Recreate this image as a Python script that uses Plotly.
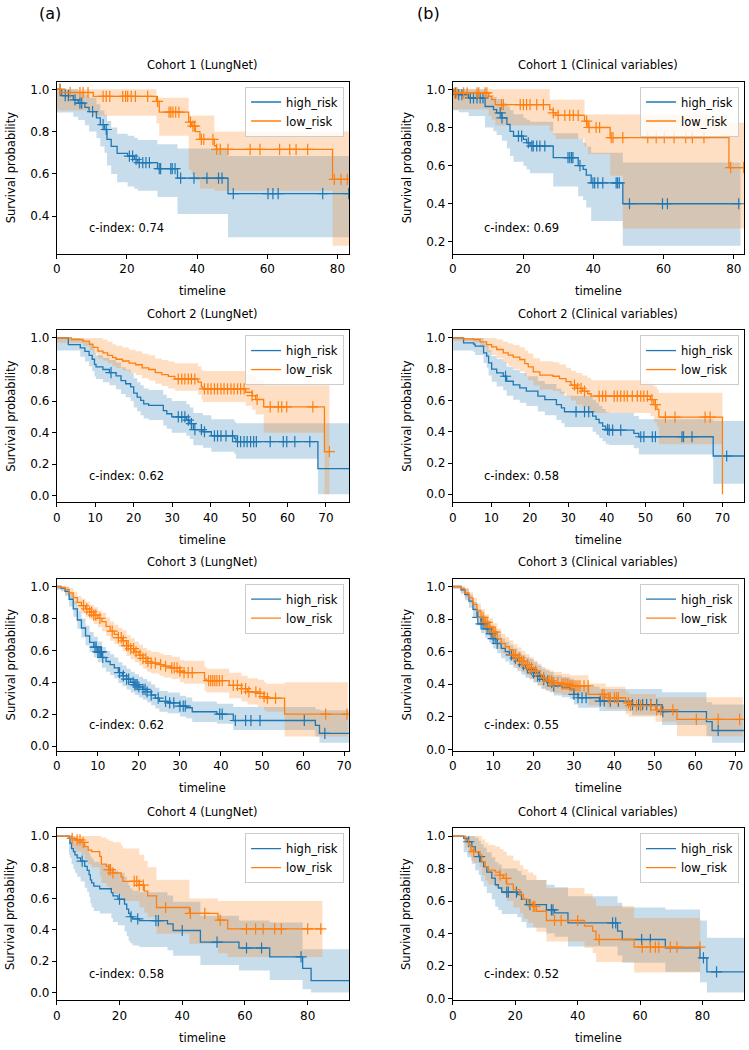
import numpy as np
import plotly.graph_objects as go

W, H = 749, 1050
BLUE = "#1f77b4"
ORANGE = "#ff7f0e"
BLUE_FILL = "rgba(31,119,180,0.25)"
ORANGE_FILL = "rgba(255,127,14,0.25)"
FONT = "DejaVu Sans"

# ---------------- Cohort 1, LungNet ----------------
c1_ln_high_t = [0, 1.4, 4.7, 6.1, 8.0, 9.2, 11.3, 12.4, 13.6, 14.3, 15.5, 17.2, 20.2, 22.1, 23.1, 28.7, 34.4, 48.8]
c1_ln_high_s = [1.0, 0.97, 0.95, 0.935, 0.915, 0.895, 0.865, 0.833, 0.81, 0.763, 0.73, 0.697, 0.684, 0.668, 0.653, 0.625, 0.58, 0.507]
c1_ln_high_hi = [1.0, 1.0, 1.0, 0.99, 0.975, 0.96, 0.93, 0.9, 0.88, 0.85, 0.82, 0.79, 0.78, 0.77, 0.76, 0.74, 0.72, 0.684]
c1_ln_high_lo = [0.89, 0.89, 0.87, 0.855, 0.83, 0.8, 0.77, 0.73, 0.7, 0.64, 0.6, 0.56, 0.54, 0.53, 0.52, 0.49, 0.41, 0.30]
c1_ln_high_c = [0.9, 2.4, 3.3, 5.2, 6.6, 7.1, 10.2, 13.2, 14.1, 20.7, 21.6, 22.6, 23.5, 24.5, 25.4, 26.4, 29.2, 29.6,
                32.5, 32.9, 33.7, 35.3, 39.1, 42.8, 46.1, 47.1, 50.3, 60.2, 61.6, 63.1, 75.8, 83.2]
c1_ln_high_end = 83.3

c1_ln_low_t = [0, 1.0, 10.4, 28.4, 29.2, 37.6, 38.4, 39.5, 40.8, 44.9, 45.5, 78.6]
c1_ln_low_s = [1.0, 0.985, 0.967, 0.943, 0.892, 0.845, 0.826, 0.80, 0.763, 0.733, 0.716, 0.574]
c1_ln_low_hi = [1.0, 1.0, 1.0, 0.96, 0.96, 0.876, 0.876, 0.876, 0.876, 0.80, 0.80, 0.80]
c1_ln_low_lo = [0.904, 0.90, 0.875, 0.84, 0.78, 0.62, 0.60, 0.57, 0.53, 0.52, 0.52, 0.26]
c1_ln_low_c = [0.9, 3.8, 6.6, 7.5, 8.9, 13.2, 14.1, 15.1, 18.8, 19.6, 20.2, 21.2, 22.4, 25.9, 28.7, 32.0, 32.5, 33.1,
               33.9, 34.8, 38.1, 38.8, 39.3, 41.2, 41.9, 44.5, 45.6, 46.6, 48.8, 55.1, 57.9, 63.5, 66.4, 68.2, 71.5,
               79.1, 81.0, 82.8]
c1_ln_low_end = 83.3

# ---------------- Cohort 1, Clinical variables ----------------
c1_cv_high_t = [0, 0.3, 1.7, 4.5, 9.2, 11.6, 12.5, 14.0, 15.4, 16.3, 17.3, 20.1, 21.0, 22.0, 28.6, 35.7, 37.1, 38.0, 39.4, 48.4]
c1_cv_high_s = [1.0, 0.98, 0.972, 0.955, 0.91, 0.894, 0.877, 0.85, 0.816, 0.78, 0.755, 0.738, 0.72, 0.703, 0.642, 0.60, 0.58, 0.55, 0.51, 0.40]
c1_cv_high_hi = [1.0, 1.0, 1.0, 1.0, 0.97, 0.96, 0.95, 0.93, 0.91, 0.89, 0.87, 0.85, 0.84, 0.83, 0.77, 0.74, 0.72, 0.70, 0.668, 0.616]
c1_cv_high_lo = [0.89, 0.89, 0.88, 0.86, 0.80, 0.78, 0.76, 0.73, 0.69, 0.65, 0.62, 0.60, 0.58, 0.56, 0.49, 0.44, 0.42, 0.38, 0.31, 0.18]
c1_cv_high_c = [0.8, 1.7, 2.6, 5.0, 5.9, 6.9, 7.8, 8.6, 13.5, 14.0, 18.7, 19.6, 21.5, 22.5, 22.9, 23.9, 24.8, 26.2,
                32.8, 33.3, 33.8, 34.2, 36.2, 39.9, 40.4, 41.3, 42.7, 46.5, 46.9, 47.4, 50.3, 59.7, 61.1, 81.4]
c1_cv_high_end = 81.9

c1_cv_low_t = [0, 0.5, 10.2, 11.1, 12.1, 27.6, 28.6, 29.3, 37.5, 38.5, 44.8, 48.4, 78.6]
c1_cv_low_s = [1.0, 0.982, 0.963, 0.946, 0.92, 0.894, 0.877, 0.863, 0.833, 0.80, 0.747, 0.747, 0.59]
c1_cv_low_hi = [1.0, 1.0, 1.0, 1.0, 1.0, 0.946, 0.946, 0.946, 0.868, 0.868, 0.868, 0.868, 0.825]
c1_cv_low_lo = [0.894, 0.894, 0.86, 0.84, 0.81, 0.78, 0.76, 0.74, 0.70, 0.66, 0.547, 0.27, 0.27]
c1_cv_low_c = [0.6, 1.2, 3.1, 4.1, 6.9, 7.4, 9.2, 9.7, 13.9, 14.4, 19.2, 20.1, 21.0, 22.0, 23.9, 25.8, 28.6, 30.0,
               31.9, 33.3, 34.3, 35.7, 38.1, 38.8, 40.8, 41.8, 45.1, 45.6, 48.4, 55.5, 57.9, 60.2, 63.0, 66.3, 68.2,
               71.5, 79.1, 82.8]
c1_cv_low_end = 82.9

# ---------------- Cohort 2, LungNet ----------------
c2_ln_high_t = [0, 3.0, 6.1, 7.3, 8.4, 9.2, 9.8, 10.2, 12.0, 13.7, 15.4, 16.7, 17.9, 19.2, 20.0, 20.9, 21.8, 22.6,
                23.9, 27.7, 28.6, 29.9, 33.7, 34.6, 35.5, 38.0, 40.2, 46.2, 46.6, 67.9]
c2_ln_high_s = [1.0, 0.958, 0.937, 0.915, 0.89, 0.865, 0.833, 0.817, 0.80, 0.78, 0.76, 0.73, 0.71, 0.69, 0.65, 0.625,
                0.604, 0.583, 0.573, 0.54, 0.52, 0.50, 0.48, 0.458, 0.42, 0.406, 0.38, 0.365, 0.344, 0.173]
c2_ln_high_hi = [1.0, 1.0, 0.99, 0.975, 0.955, 0.935, 0.905, 0.89, 0.875, 0.86, 0.845, 0.815, 0.8, 0.78, 0.745, 0.72,
                 0.7, 0.68, 0.67, 0.64, 0.62, 0.60, 0.58, 0.56, 0.525, 0.51, 0.485, 0.47, 0.46, 0.46]
c2_ln_high_lo = [0.92, 0.92, 0.88, 0.85, 0.82, 0.79, 0.755, 0.74, 0.72, 0.70, 0.675, 0.645, 0.625, 0.6, 0.56, 0.535,
                 0.51, 0.49, 0.48, 0.445, 0.425, 0.40, 0.38, 0.36, 0.32, 0.305, 0.28, 0.265, 0.235, 0.01]
c2_ln_high_c = [14.1, 31.6, 32.5, 33.3, 34.2, 35.0, 35.9, 37.6, 38.4, 41.0, 41.8, 42.7, 44.0, 45.7, 47.0, 47.8, 48.7,
                49.5, 50.4, 51.2, 51.9, 55.5, 58.9, 59.8, 61.9, 65.8]
c2_ln_high_end = 76.0

c2_ln_low_t = [0, 3.8, 6.8, 8.5, 9.4, 10.7, 12.0, 13.2, 14.5, 15.4, 17.1, 18.8, 20.5, 22.2, 23.9, 25.6, 27.3, 29.0,
               30.7, 36.7, 37.6, 38.0, 49.1, 50.8, 51.7, 53.8, 69.6]
c2_ln_low_s = [1.0, 0.99, 0.98, 0.96, 0.94, 0.917, 0.905, 0.89, 0.875, 0.865, 0.854, 0.84, 0.83, 0.81, 0.80, 0.78,
               0.767, 0.756, 0.74, 0.72, 0.69, 0.677, 0.656, 0.635, 0.61, 0.563, 0.28]
c2_ln_low_hi = [1.0, 1.0, 1.0, 1.0, 1.0, 1.0, 0.99, 0.975, 0.96, 0.95, 0.94, 0.925, 0.915, 0.9, 0.89, 0.87, 0.86,
                0.85, 0.84, 0.82, 0.80, 0.79, 0.77, 0.755, 0.735, 0.70, 0.70]
c2_ln_low_lo = [0.97, 0.97, 0.95, 0.92, 0.90, 0.87, 0.855, 0.84, 0.82, 0.81, 0.795, 0.78, 0.765, 0.745, 0.73, 0.71,
                0.695, 0.68, 0.665, 0.64, 0.61, 0.595, 0.57, 0.545, 0.515, 0.40, 0.01]
c2_ln_low_c = [31.6, 32.5, 33.3, 34.2, 35.0, 35.9, 38.4, 39.3, 40.1, 41.0, 41.8, 42.7, 43.5, 44.4, 45.3, 46.1, 47.0,
               47.8, 48.7, 50.8, 52.1, 55.5, 57.6, 58.5, 59.8, 66.6, 70.9]
c2_ln_low_end = 70.9

# ---------------- Cohort 2, Clinical variables ----------------
c2_cv_high_t = [0, 2.8, 5.4, 5.8, 8.0, 8.8, 9.3, 10.1, 11.4, 13.1, 14.0, 15.7, 17.4, 19.1, 22.1, 23.9, 26.9, 28.2,
                29.0, 36.3, 37.2, 38.0, 38.9, 39.7, 40.6, 47.0, 48.3, 67.6]
c2_cv_high_s = [1.0, 0.968, 0.96, 0.947, 0.904, 0.883, 0.84, 0.80, 0.777, 0.755, 0.723, 0.70, 0.68, 0.66, 0.628,
                0.606, 0.574, 0.553, 0.528, 0.50, 0.479, 0.457, 0.436, 0.415, 0.41, 0.39, 0.368, 0.245]
c2_cv_high_hi = [1.0, 1.0, 1.0, 1.0, 0.97, 0.955, 0.92, 0.885, 0.865, 0.845, 0.815, 0.795, 0.775, 0.755, 0.725,
                 0.705, 0.675, 0.655, 0.63, 0.605, 0.585, 0.565, 0.545, 0.525, 0.52, 0.50, 0.48, 0.468]
c2_cv_high_lo = [0.92, 0.92, 0.91, 0.89, 0.84, 0.81, 0.76, 0.72, 0.69, 0.665, 0.63, 0.605, 0.585, 0.565, 0.53,
                 0.505, 0.475, 0.455, 0.43, 0.40, 0.38, 0.36, 0.34, 0.32, 0.315, 0.295, 0.255, 0.068]
c2_cv_high_c = [13.7, 32.0, 34.2, 35.3, 40.2, 40.6, 41.5, 43.6, 48.8, 49.6, 51.8, 52.6, 59.5, 59.9, 62.1, 71.1]
c2_cv_high_end = 75.6

c2_cv_low_t = [0, 2.8, 5.4, 7.1, 8.8, 10.1, 11.4, 13.1, 14.4, 15.7, 17.4, 18.7, 19.6, 20.9, 22.6, 26.0, 27.7, 29.4,
               30.7, 32.0, 33.7, 35.0, 35.9, 51.3, 52.2, 53.0, 53.5, 70.0]
c2_cv_low_s = [1.0, 0.994, 0.99, 0.975, 0.957, 0.943, 0.926, 0.904, 0.89, 0.877, 0.862, 0.836, 0.815, 0.783, 0.762,
               0.755, 0.74, 0.72, 0.698, 0.677, 0.66, 0.643, 0.628, 0.606, 0.574, 0.543, 0.494, 0.0]
c2_cv_low_hi = [1.0, 1.0, 1.0, 1.0, 1.0, 1.0, 0.99, 0.975, 0.965, 0.955, 0.94, 0.92, 0.90, 0.87, 0.85, 0.845, 0.83,
                0.81, 0.79, 0.775, 0.76, 0.745, 0.73, 0.71, 0.69, 0.67, 0.65, 0.0]
c2_cv_low_lo = [0.98, 0.98, 0.97, 0.94, 0.91, 0.89, 0.87, 0.84, 0.82, 0.80, 0.785, 0.755, 0.73, 0.695, 0.67, 0.66,
                0.645, 0.625, 0.60, 0.575, 0.56, 0.54, 0.52, 0.50, 0.46, 0.43, 0.32, 0.0]
c2_cv_low_c = [31.6, 32.4, 33.3, 34.2, 38.0, 38.9, 39.7, 41.9, 42.7, 43.6, 44.5, 45.3, 46.6, 47.9, 48.8, 49.6, 50.5,
               51.7, 52.6, 55.2, 57.7, 65.5, 66.8]
c2_cv_low_end = 70.0

# ---------------- Cohort 3, LungNet ----------------
c3_ln_high_t = [0, 1, 2, 3, 4, 5, 6, 7, 8, 9, 10, 11, 12, 13, 14, 15, 16, 17, 18, 19, 20, 21, 22, 23, 24, 25, 27,
                30, 31.5, 33, 39, 43, 63, 64]
c3_ln_high_s = [1.0, 0.99, 0.97, 0.92, 0.86, 0.79, 0.74, 0.69, 0.65, 0.62, 0.59, 0.555, 0.53, 0.51, 0.49, 0.46,
                0.44, 0.42, 0.40, 0.385, 0.37, 0.355, 0.34, 0.32, 0.30, 0.28, 0.27, 0.25, 0.24, 0.215, 0.20, 0.16,
                0.13, 0.08]
c3_ln_high_hi = [1.0, 1.0, 0.995, 0.96, 0.91, 0.85, 0.80, 0.755, 0.715, 0.685, 0.655, 0.62, 0.595, 0.575, 0.555,
                 0.525, 0.505, 0.485, 0.465, 0.45, 0.435, 0.42, 0.405, 0.385, 0.365, 0.345, 0.335, 0.315, 0.305,
                 0.28, 0.265, 0.245, 0.23, 0.225]
c3_ln_high_lo = [0.98, 0.97, 0.94, 0.875, 0.81, 0.735, 0.68, 0.63, 0.59, 0.555, 0.525, 0.49, 0.465, 0.445, 0.425,
                 0.395, 0.375, 0.355, 0.335, 0.32, 0.305, 0.29, 0.275, 0.255, 0.235, 0.215, 0.205, 0.185, 0.175,
                 0.15, 0.14, 0.10, 0.06, 0.02]
c3_ln_high_c = [9.3, 9.6, 10.0, 10.3, 10.6, 10.9, 11.2, 15.3, 16.2, 17.0, 17.5, 18.6, 19.0, 19.3, 19.6, 20.0, 21.0,
                21.5, 22.0, 23.0, 24.7, 26.5, 27.5, 28.5, 30.0, 30.8, 31.3, 39.7, 40.3, 43.5, 46.0, 47.3, 49.5,
                60.3, 65.3]
c3_ln_high_end = 71.2

c3_ln_low_t = [0, 1, 2, 3, 4, 5, 6, 7, 8, 9, 10, 11, 12, 13, 14, 15, 16, 17, 18, 19, 20, 21, 22, 23, 25, 26, 28, 30,
               31, 36, 36.5, 42, 45, 46.5, 49, 50.5, 51, 55.5]
c3_ln_low_s = [1.0, 0.995, 0.98, 0.96, 0.93, 0.90, 0.88, 0.86, 0.84, 0.82, 0.80, 0.78, 0.75, 0.72, 0.70, 0.68, 0.66,
               0.63, 0.61, 0.59, 0.57, 0.55, 0.53, 0.52, 0.51, 0.50, 0.49, 0.47, 0.46, 0.42, 0.41, 0.38, 0.36, 0.34,
               0.33, 0.31, 0.30, 0.20]
c3_ln_low_hi = [1.0, 1.0, 1.0, 0.99, 0.965, 0.94, 0.925, 0.905, 0.885, 0.87, 0.85, 0.835, 0.805, 0.78, 0.76, 0.74,
                0.725, 0.695, 0.675, 0.655, 0.635, 0.615, 0.6, 0.59, 0.58, 0.57, 0.56, 0.54, 0.535, 0.495, 0.485,
                0.46, 0.44, 0.425, 0.415, 0.40, 0.39, 0.40]
c3_ln_low_lo = [0.985, 0.98, 0.955, 0.925, 0.89, 0.855, 0.83, 0.81, 0.79, 0.765, 0.745, 0.72, 0.69, 0.66, 0.64,
                0.62, 0.595, 0.565, 0.545, 0.525, 0.505, 0.485, 0.465, 0.455, 0.44, 0.43, 0.42, 0.40, 0.39, 0.345,
                0.335, 0.30, 0.28, 0.26, 0.245, 0.225, 0.215, 0.06]
c3_ln_low_c = [6.5, 7.3, 8.0, 8.5, 9.0, 9.5, 10.5, 13.5, 15.0, 15.7, 16.2, 17.0, 17.4, 18.0, 18.7, 19.3, 20.3, 21.0,
               21.7, 22.2, 23.0, 24.0, 25.3, 26.5, 28.0, 28.6, 29.3, 30.0, 31.0, 32.0, 33.0, 37.0, 37.5, 38.0, 38.5,
               39.0, 39.6, 40.3, 43.0, 44.0, 45.0, 46.0, 46.8, 48.5, 49.5, 50.5, 51.3, 53.3, 65.5, 70.7]
c3_ln_low_end = 70.9

# ---------------- Cohort 3, Clinical variables ----------------
c3_cv_high_t = [0, 2, 3, 4, 5, 6, 7, 8, 9, 10, 11, 12, 13, 14, 15, 16, 17, 18, 19, 20, 21, 22, 23, 24, 25, 27, 29,
                30, 31, 36.3, 44.4, 51.8, 62.8, 64.2]
c3_cv_high_s = [1.0, 0.98, 0.95, 0.91, 0.86, 0.81, 0.77, 0.74, 0.71, 0.68, 0.65, 0.62, 0.60, 0.58, 0.56, 0.54, 0.52,
                0.50, 0.49, 0.47, 0.45, 0.43, 0.42, 0.41, 0.39, 0.38, 0.37, 0.338, 0.317, 0.296, 0.275, 0.232, 0.17,
                0.116]
c3_cv_high_hi = [1.0, 1.0, 0.985, 0.95, 0.905, 0.86, 0.825, 0.795, 0.765, 0.74, 0.71, 0.68, 0.66, 0.64, 0.62, 0.60,
                 0.58, 0.565, 0.555, 0.535, 0.515, 0.495, 0.485, 0.475, 0.455, 0.445, 0.435, 0.405, 0.385, 0.37,
                 0.37, 0.35, 0.29, 0.275]
c3_cv_high_lo = [0.985, 0.955, 0.915, 0.87, 0.815, 0.76, 0.715, 0.685, 0.655, 0.62, 0.59, 0.56, 0.54, 0.52, 0.50,
                 0.48, 0.46, 0.44, 0.43, 0.41, 0.39, 0.37, 0.36, 0.35, 0.33, 0.32, 0.31, 0.275, 0.255, 0.235, 0.21,
                 0.15, 0.08, 0.04]
c3_cv_high_c = [6.2, 7.0, 7.5, 8.5, 9.5, 10.0, 10.5, 11.0, 14.5, 15.5, 16.5, 17.5, 18.5, 19.5, 20.0, 21.0, 21.5,
                22.5, 23.5, 24.5, 25.0, 30.0, 31.0, 32.0, 33.0, 36.5, 37.5, 39.0, 41.0, 44.5, 46.0, 47.0, 48.0,
                49.0, 50.5, 52.0, 65.7]
c3_cv_high_end = 72.1

c3_cv_low_t = [0, 2, 3, 4, 5, 6, 7, 8, 9, 10, 11, 12, 13, 14, 15, 16, 17, 18, 19, 20, 21, 22, 23, 24, 25, 27, 29,
               33.6, 37.9, 42.8, 43.6, 50.2, 55.5]
c3_cv_low_s = [1.0, 0.985, 0.96, 0.93, 0.89, 0.85, 0.81, 0.78, 0.75, 0.72, 0.68, 0.65, 0.63, 0.61, 0.58, 0.56, 0.54,
               0.52, 0.50, 0.48, 0.46, 0.44, 0.43, 0.42, 0.41, 0.40, 0.39, 0.338, 0.317, 0.285, 0.268, 0.243, 0.184]
c3_cv_low_hi = [1.0, 1.0, 0.99, 0.965, 0.93, 0.895, 0.86, 0.83, 0.805, 0.775, 0.74, 0.71, 0.69, 0.67, 0.645, 0.625,
                0.605, 0.585, 0.565, 0.545, 0.525, 0.505, 0.495, 0.485, 0.475, 0.465, 0.455, 0.405, 0.385, 0.355,
                0.34, 0.32, 0.32]
c3_cv_low_lo = [0.99, 0.965, 0.93, 0.895, 0.85, 0.805, 0.76, 0.73, 0.695, 0.665, 0.62, 0.59, 0.57, 0.55, 0.515,
                0.495, 0.475, 0.455, 0.435, 0.415, 0.395, 0.375, 0.365, 0.355, 0.345, 0.335, 0.325, 0.27, 0.25,
                0.215, 0.20, 0.17, 0.08]
c3_cv_low_c = [7.5, 8.0, 8.5, 9.2, 10.0, 10.5, 15.0, 15.5, 16.5, 17.0, 17.5, 18.5, 19.0, 19.5, 20.5, 22.5, 24.0,
               24.5, 25.0, 26.0, 27.0, 27.5, 28.0, 28.5, 29.0, 29.5, 30.0, 30.5, 31.0, 31.5, 32.5, 33.5, 37.0, 37.5,
               38.5, 39.0, 40.0, 40.5, 41.0, 43.5, 44.0, 45.5, 46.5, 49.0, 50.5, 51.5, 54.5, 60.3, 65.7, 71.0]
c3_cv_low_end = 71.8

# ---------------- Cohort 4, LungNet ----------------
c4_ln_high_t = [0, 3.9, 4.2, 4.7, 5.3, 5.8, 6.5, 7.6, 8.9, 9.7, 10.3, 10.7, 11.1, 11.8, 13.7, 17.4, 17.9, 19.5, 21.6,
                22.3, 22.9, 23.4, 24.2, 26.3, 35.3, 37.1, 45.8, 58.1, 67.9, 78.4, 81.1]
c4_ln_high_s = [1.0, 0.985, 0.954, 0.92, 0.90, 0.88, 0.86, 0.84, 0.806, 0.78, 0.754, 0.72, 0.70, 0.68, 0.663,
                0.638, 0.617, 0.596, 0.565, 0.533, 0.505, 0.484, 0.47, 0.459, 0.438, 0.396, 0.322, 0.284, 0.227,
                0.154, 0.076]
c4_ln_high_hi = [1.0, 1.0, 1.0, 1.0, 1.0, 0.99, 0.975, 0.96, 0.935, 0.915, 0.895, 0.87, 0.855, 0.835, 0.82, 0.80,
                 0.78, 0.765, 0.74, 0.71, 0.685, 0.665, 0.65, 0.64, 0.62, 0.58, 0.49, 0.46, 0.448, 0.276, 0.276]
c4_ln_high_lo = [1.0, 0.88, 0.86, 0.82, 0.79, 0.765, 0.74, 0.71, 0.67, 0.64, 0.61, 0.57, 0.545, 0.52, 0.505, 0.475,
                 0.45, 0.43, 0.39, 0.36, 0.33, 0.315, 0.30, 0.29, 0.27, 0.235, 0.175, 0.14, 0.08, 0.02, 0.0]
c4_ln_high_c = [8.1, 20.0, 23.7, 25.8, 31.6, 32.4, 40.0, 51.1, 60.5, 65.3, 77.9]
c4_ln_high_end = 93.2

c4_ln_low_t = [0, 4.7, 5.8, 7.9, 8.9, 10.0, 11.1, 13.7, 14.2, 15.8, 16.6, 17.9, 20.5, 21.1, 26.3, 27.9, 29.0, 31.8,
               42.3, 51.4, 54.5]
c4_ln_low_s = [1.0, 0.985, 0.975, 0.96, 0.933, 0.91, 0.90, 0.87, 0.82, 0.806, 0.785, 0.764, 0.737, 0.71, 0.686,
               0.648, 0.617, 0.543, 0.505, 0.463, 0.406]
c4_ln_low_hi = [1.0, 1.0, 1.0, 1.0, 1.0, 1.0, 1.0, 1.0, 0.99, 0.98, 0.97, 0.96, 0.94, 0.92, 0.88, 0.84, 0.80, 0.72,
                0.60, 0.585, 0.585]
c4_ln_low_lo = [1.0, 0.92, 0.90, 0.88, 0.85, 0.82, 0.80, 0.75, 0.70, 0.68, 0.655, 0.63, 0.60, 0.585, 0.545, 0.51,
                0.48, 0.375, 0.312, 0.25, 0.227]
c4_ln_low_c = [4.9, 6.5, 7.4, 8.4, 16.6, 17.1, 17.9, 24.7, 25.5, 26.3, 27.6, 34.7, 42.6, 47.2, 52.1, 60.5, 63.4,
               65.8, 69.5, 71.6, 80.0, 84.2]
c4_ln_low_end = 84.7

# ---------------- Cohort 4, Clinical variables ----------------
c4_cv_high_t = [0, 3.5, 4.6, 6.1, 7.2, 8.3, 9.0, 9.9, 10.9, 12.5, 13.6, 14.6, 15.7, 20.7, 22.0, 23.6, 30.0, 32.6,
                36.9, 52.8, 54.3, 68.1, 79.2, 81.4]
c4_cv_high_s = [1.0, 0.986, 0.965, 0.935, 0.904, 0.873, 0.843, 0.812, 0.778, 0.741, 0.70, 0.68, 0.655, 0.64, 0.61,
                0.578, 0.545, 0.527, 0.465, 0.414, 0.363, 0.312, 0.25, 0.163]
c4_cv_high_hi = [1.0, 1.0, 1.0, 1.0, 0.99, 0.97, 0.95, 0.93, 0.9, 0.87, 0.84, 0.825, 0.8, 0.785, 0.76, 0.73, 0.70,
                 0.685, 0.63, 0.59, 0.56, 0.547, 0.48, 0.373]
c4_cv_high_lo = [1.0, 0.90, 0.87, 0.83, 0.79, 0.76, 0.72, 0.69, 0.65, 0.61, 0.565, 0.545, 0.52, 0.50, 0.47, 0.435,
                 0.40, 0.38, 0.32, 0.265, 0.22, 0.165, 0.10, 0.037]
c4_cv_high_c = [5.1, 8.6, 17.3, 17.8, 20.4, 24.7, 31.6, 32.1, 51.2, 52.2, 60.5, 63.3, 80.3, 84.5]
c4_cv_high_end = 93.3

c4_cv_low_t = [0, 4.0, 5.1, 5.8, 6.7, 8.6, 9.3, 10.4, 11.4, 13.6, 15.1, 16.2, 17.3, 19.4, 21.5, 22.6, 24.2, 25.8,
               26.8, 30.0, 42.2, 44.8, 45.9, 58.1]
c4_cv_low_s = [1.0, 0.975, 0.945, 0.914, 0.904, 0.884, 0.843, 0.812, 0.79, 0.778, 0.76, 0.74, 0.704, 0.67, 0.64,
               0.61, 0.588, 0.567, 0.537, 0.48, 0.445, 0.414, 0.363, 0.316]
c4_cv_low_hi = [1.0, 1.0, 1.0, 1.0, 1.0, 1.0, 0.98, 0.96, 0.945, 0.935, 0.92, 0.905, 0.88, 0.85, 0.82, 0.795, 0.775,
                0.76, 0.73, 0.68, 0.645, 0.615, 0.57, 0.496]
c4_cv_low_lo = [1.0, 0.93, 0.885, 0.85, 0.835, 0.81, 0.76, 0.725, 0.70, 0.685, 0.665, 0.64, 0.60, 0.56, 0.525,
                0.49, 0.465, 0.44, 0.41, 0.35, 0.31, 0.28, 0.225, 0.16]
c4_cv_low_c = [6.7, 15.1, 17.1, 25.8, 26.3, 32.6, 34.7, 40.0, 46.9, 60.7, 63.3, 64.9, 66.0, 69.7, 71.8, 79.2]
c4_cv_low_end = 79.3

titles = ["Cohort 1 (LungNet)", "Cohort 1 (Clinical variables)",
          "Cohort 2 (LungNet)", "Cohort 2 (Clinical variables)",
          "Cohort 3 (LungNet)", "Cohort 3 (Clinical variables)",
          "Cohort 4 (LungNet)", "Cohort 4 (Clinical variables)"]
cindex = ["0.74", "0.69", "0.62", "0.58", "0.62", "0.55", "0.58", "0.52"]
x_dtick = [20, 20, 10, 10, 10, 10, 20, 20]
group_labels = ["high_risk", "low_risk"]
panel_labels = ["(a)", "(b)"]

panel_curves = [
    [(c1_ln_high_t, c1_ln_high_s, c1_ln_high_lo, c1_ln_high_hi, c1_ln_high_c, c1_ln_high_end),
     (c1_ln_low_t, c1_ln_low_s, c1_ln_low_lo, c1_ln_low_hi, c1_ln_low_c, c1_ln_low_end)],
    [(c1_cv_high_t, c1_cv_high_s, c1_cv_high_lo, c1_cv_high_hi, c1_cv_high_c, c1_cv_high_end),
     (c1_cv_low_t, c1_cv_low_s, c1_cv_low_lo, c1_cv_low_hi, c1_cv_low_c, c1_cv_low_end)],
    [(c2_ln_high_t, c2_ln_high_s, c2_ln_high_lo, c2_ln_high_hi, c2_ln_high_c, c2_ln_high_end),
     (c2_ln_low_t, c2_ln_low_s, c2_ln_low_lo, c2_ln_low_hi, c2_ln_low_c, c2_ln_low_end)],
    [(c2_cv_high_t, c2_cv_high_s, c2_cv_high_lo, c2_cv_high_hi, c2_cv_high_c, c2_cv_high_end),
     (c2_cv_low_t, c2_cv_low_s, c2_cv_low_lo, c2_cv_low_hi, c2_cv_low_c, c2_cv_low_end)],
    [(c3_ln_high_t, c3_ln_high_s, c3_ln_high_lo, c3_ln_high_hi, c3_ln_high_c, c3_ln_high_end),
     (c3_ln_low_t, c3_ln_low_s, c3_ln_low_lo, c3_ln_low_hi, c3_ln_low_c, c3_ln_low_end)],
    [(c3_cv_high_t, c3_cv_high_s, c3_cv_high_lo, c3_cv_high_hi, c3_cv_high_c, c3_cv_high_end),
     (c3_cv_low_t, c3_cv_low_s, c3_cv_low_lo, c3_cv_low_hi, c3_cv_low_c, c3_cv_low_end)],
    [(c4_ln_high_t, c4_ln_high_s, c4_ln_high_lo, c4_ln_high_hi, c4_ln_high_c, c4_ln_high_end),
     (c4_ln_low_t, c4_ln_low_s, c4_ln_low_lo, c4_ln_low_hi, c4_ln_low_c, c4_ln_low_end)],
    [(c4_cv_high_t, c4_cv_high_s, c4_cv_high_lo, c4_cv_high_hi, c4_cv_high_c, c4_cv_high_end),
     (c4_cv_low_t, c4_cv_low_s, c4_cv_low_lo, c4_cv_low_hi, c4_cv_low_c, c4_cv_low_end)],
]

# ---------------- layout geometry (pixels) ----------------
col_x = [(53.3, 348.3), (453.0, 747.0)]
row_y = [(82, 255), (332, 505), (582, 755), (833, 1006)]


def px_x(p):
    return p / W


def px_y(p):
    return 1 - p / H


colors = [BLUE, ORANGE]
fills = [BLUE_FILL, ORANGE_FILL]
txt_font = dict(family=FONT, size=11.5, color="black")
tick_font = dict(family=FONT, size=12, color="black")

fig = go.Figure()
annotations = []
layout = {}

for k in range(8):
    r, c = divmod(k, 2)
    x0, x1 = col_x[c]
    y0, y1 = row_y[r]
    ax = "" if k == 0 else str(k + 1)
    xa, ya = "x" + ax, "y" + ax
    leg = "legend" if k == 0 else "legend" + str(k + 1)

    curves = panel_curves[k]
    ymin = min(min(min(cv[2]) for cv in curves), min(min(cv[1]) for cv in curves))
    ymax = max(max(cv[3]) for cv in curves)
    pad = 0.05 * (ymax - ymin)
    xmax = max(cv[5] for cv in curves)

    for g, (t, s, lo, hi, cens, end) in enumerate(curves):
        xs = list(t) + [end]
        fig.add_trace(go.Scatter(x=xs, y=list(lo) + [lo[-1]], mode="lines", line=dict(width=0, shape="hv"),
                                 showlegend=False, hoverinfo="skip", xaxis=xa, yaxis=ya))
        fig.add_trace(go.Scatter(x=xs, y=list(hi) + [hi[-1]], mode="lines", line=dict(width=0, shape="hv"),
                                 fill="tonexty", fillcolor=fills[g], showlegend=False, hoverinfo="skip",
                                 xaxis=xa, yaxis=ya))
    for g, (t, s, lo, hi, cens, end) in enumerate(curves):
        xs = list(t) + [end]
        fig.add_trace(go.Scatter(x=xs, y=list(s) + [s[-1]], mode="lines",
                                 line=dict(color=colors[g], width=1.3, shape="hv"),
                                 name=group_labels[g], legend=leg, showlegend=True, xaxis=xa, yaxis=ya))
        idx = np.searchsorted(np.array(t), np.array(cens), side="right") - 1
        cy = [s[i] for i in idx]
        fig.add_trace(go.Scatter(x=cens, y=cy, mode="markers",
                                 marker=dict(symbol="cross-thin", size=8, color=colors[g],
                                             line=dict(color=colors[g], width=1.2)),
                                 showlegend=False, hoverinfo="skip", xaxis=xa, yaxis=ya))

    axis_common = dict(showline=True, mirror=True, linecolor="black", linewidth=1.1, ticks="outside",
                       ticklen=4, tickwidth=1, tickcolor="black", showgrid=False, zeroline=False,
                       tickfont=tick_font)
    layout["xaxis" + ax] = dict(axis_common, domain=[px_x(x0), px_x(x1)], range=[0, xmax], dtick=x_dtick[k],
                                tick0=0, anchor=ya)
    layout["yaxis" + ax] = dict(axis_common, domain=[px_y(y1), px_y(y0)], range=[ymin - pad, ymax + pad],
                                dtick=0.2, tick0=0, tickformat=".1f", anchor=xa)
    layout[leg] = dict(x=px_x(x1 - 5), xanchor="right", y=px_y(y0 + 5), yanchor="top", traceorder="normal",
                       bgcolor="rgba(255,255,255,0.8)", bordercolor="#cccccc", borderwidth=1,
                       font=txt_font, tracegroupgap=0, itemwidth=30)

    annotations.append(dict(text=titles[k], x=px_x((x0 + x1) / 2), y=px_y(y0 - 16.5), xref="paper", yref="paper",
                            showarrow=False, xanchor="center", yanchor="middle", font=txt_font))
    annotations.append(dict(text="c-index: " + cindex[k], x=px_x(x0 + 30), y=px_y(y1 - 26), xref="paper",
                            yref="paper", showarrow=False, xanchor="left", yanchor="middle", font=txt_font))
    annotations.append(dict(text="timeline", x=px_x((x0 + x1) / 2), y=px_y(y1 + 38), xref="paper", yref="paper",
                            showarrow=False, xanchor="center", yanchor="middle", font=txt_font))
    annotations.append(dict(text="Survival probability", x=px_x(x0 - 46.5), y=px_y((y0 + y1) / 2), xref="paper",
                            yref="paper", showarrow=False, xanchor="center", yanchor="middle", textangle=-90,
                            font=txt_font))

annotations.append(dict(text=panel_labels[0], x=px_x(46), y=px_y(14), xref="paper", yref="paper", showarrow=False,
                        xanchor="center", yanchor="middle", font=dict(family=FONT, size=16, color="black")))
annotations.append(dict(text=panel_labels[1], x=px_x(429), y=px_y(14), xref="paper", yref="paper", showarrow=False,
                        xanchor="center", yanchor="middle", font=dict(family=FONT, size=16, color="black")))

fig.update_layout(width=W, height=H, margin=dict(l=0, r=0, t=0, b=0), paper_bgcolor="white",
                  plot_bgcolor="white", annotations=annotations, **layout)
fig.write_html("out.html", config={"displayModeBar": False},
               post_script="document.body.style.margin='0';document.body.style.padding='0';"
                           "document.documentElement.style.overflow='hidden';")
